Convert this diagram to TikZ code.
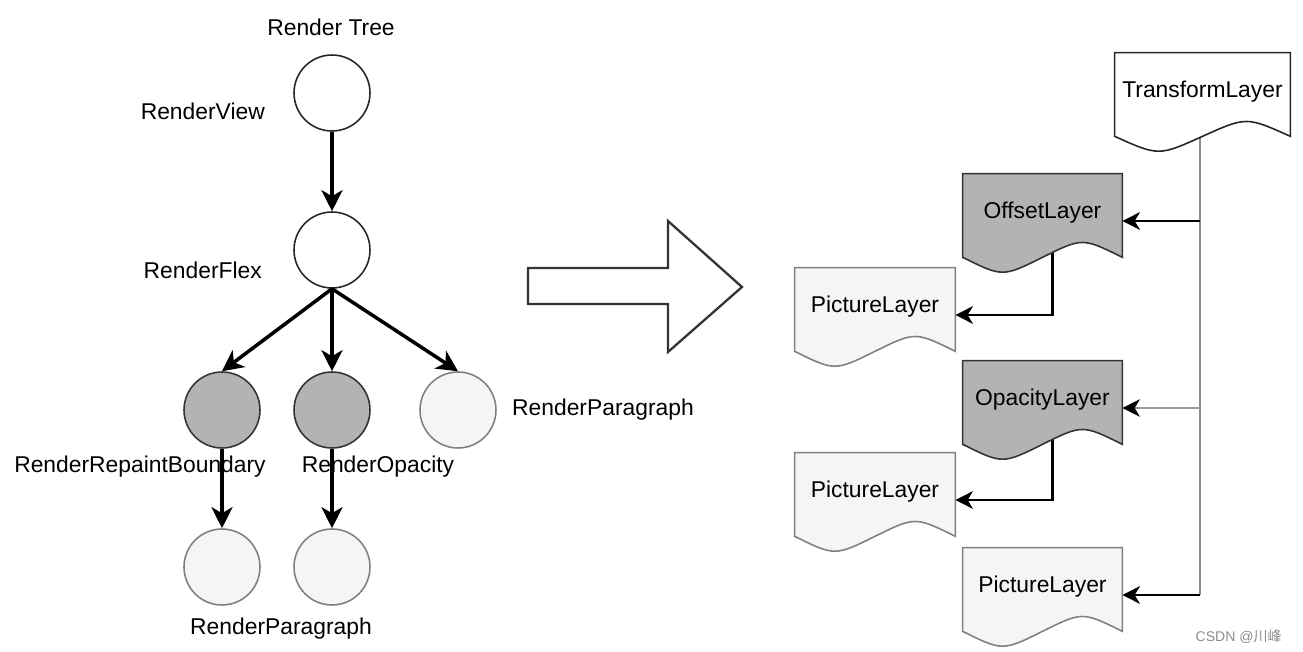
\documentclass[tikz,border=0pt]{standalone}
\usepackage{fontspec}
\setmainfont{Liberation Sans}
\newfontfamily\cjkfont{Noto Sans CJK SC}
\usetikzlibrary{arrows.meta,calc}

\pgfdeclarelayer{links}
\pgfdeclarelayer{docs}
\pgfsetlayers{links,docs,main}

\definecolor{darkfill}{HTML}{B3B3B3}
\definecolor{palefill}{HTML}{F5F5F5}
\definecolor{trunkgray}{HTML}{8C8C8C}

% document outline with a wavy lower edge, drawn round a named node
\newcommand{\docshape}[2]{%
 \draw[#2] (#1.north west) -- (#1.north east) -- ($(#1.south east)+(0,-11)$)
  .. controls ($(#1.south east)!0.25!(#1.south west)+(0,-30.8)$) .. ($(#1.south)+(0,-11)$)
  .. controls ($(#1.south east)!0.75!(#1.south west)+(0,8.8)$) .. ($(#1.south west)+(0,-11)$) -- cycle;}

\begin{document}
\begin{tikzpicture}[x=0.02cm,y=-0.02cm,
  every node/.style={font=\fontsize{13}{15}\selectfont},
  whitenode/.style={circle,draw=black!85,fill=white,line width=0.9pt,minimum size=1.52cm,inner sep=0},
  greynode/.style={circle,draw=black!80,fill=darkfill,line width=0.9pt,minimum size=1.52cm,inner sep=0},
  palenode/.style={circle,draw=black!50,fill=palefill,line width=0.9pt,minimum size=1.52cm,inner sep=0},
  treearrow/.style={line width=2pt,-{Stealth[length=12pt,width=12pt,inset=3.5pt]}},
  doc/.style={rectangle,inner sep=0,minimum height=1.88cm,text height=0.35cm,text depth=0.45cm},
  docwhite/.style={draw=black!85,fill=white,line width=0.9pt},
  docdark/.style={draw=black!80,fill=darkfill,line width=0.9pt},
  docpale/.style={draw=black!50,fill=palefill,line width=0.9pt},
  link/.style={line width=1.4pt,-{Stealth[length=10pt,width=10pt,inset=3pt]}},
  thinlink/.style={draw=black!40,line width=0.6pt,-{Stealth[length=10pt,width=10pt,inset=3pt,color=black]}},
  trunkline/.style={draw=trunkgray,line width=1.5pt},
  bigarrow/.style={draw=black!80,line width=1.3pt,line join=miter,fill=white},
  watermark/.style={font=\fontsize{8}{9}\selectfont,text=black!45}]
\useasboundingbox (0,0) rectangle (1303,652);

% render tree
\node (title) at (331,27) {Render Tree};
\node[whitenode] (rv) at (332,93) {};
\node[whitenode] (rf) at (332,250) {};
\node[greynode] (rrb) at (222,410) {};
\node[greynode] (rop) at (332,410) {};
\node[palenode] (rpa) at (458,410) {};
\node[palenode] (rpa1) at (222,567) {};
\node[palenode] (rpa2) at (332,567) {};

\node[anchor=east] (rvlbl) at (271,111) {RenderView};
\node[anchor=east] (rflbl) at (268,270) {RenderFlex};
\node[anchor=west] (rpalbl) at (506,410) {RenderParagraph};
\node (rrblbl) at (140,467) {RenderRepaintBoundary};
\node (roplbl) at (378,467) {RenderOpacity};
\node (rpa1lbl) at (281,629) {RenderParagraph};

\draw[treearrow] (rv) -- (rf);
\draw[treearrow] (rf.south) -- (rrb.north);
\draw[treearrow] (rf.south) -- (rop.north);
\draw[treearrow] (rf.south) -- (rpa.north);
\draw[treearrow] (rrb) -- (rpa1);
\draw[treearrow] (rop) -- (rpa2);

% big arrow
\draw[bigarrow] (528,268) -- (668,268) -- (668,221) -- (742,287) -- (668,352) -- (668,304) -- (528,304) -- cycle;

% layer tree
\node[doc,minimum width=3.5cm] (tl) at (1202.5,100) {TransformLayer};
\node[doc,minimum width=3.18cm] (ol) at (1042.5,221) {OffsetLayer};
\node[doc,minimum width=3.2cm] (pl1) at (875,315) {PictureLayer};
\node[doc,minimum width=3.18cm] (opl) at (1042.5,408) {OpacityLayer};
\node[doc,minimum width=3.2cm] (pl2) at (875,500) {PictureLayer};
\node[doc,minimum width=3.18cm] (pl3) at (1042.5,595) {PictureLayer};
\coordinate (trunk) at (1200,0);

\begin{pgfonlayer}{docs}
\docshape{tl}{docwhite}
\docshape{ol}{docdark}
\docshape{pl1}{docpale}
\docshape{opl}{docdark}
\docshape{pl2}{docpale}
\docshape{pl3}{docpale}
\end{pgfonlayer}

\begin{pgfonlayer}{links}
\draw[trunkline] (trunk |- tl.center) -- (trunk |- pl3.east);
\draw[link] (trunk |- ol.east) -- (ol.east);
\draw[thinlink] (trunk |- opl.east) -- (opl.east);
\draw[link] (trunk |- pl3.east) -- (pl3.east);
\draw[link] ($(ol.center)+(10,0)$) |- (pl1.east);
\draw[link] ($(opl.center)+(10,0)$) |- (pl2.east);
\end{pgfonlayer}

\node[watermark,anchor=east] (mark) at (1288,637) {CSDN @{\cjkfont 川峰}};
\end{tikzpicture}
\end{document}
